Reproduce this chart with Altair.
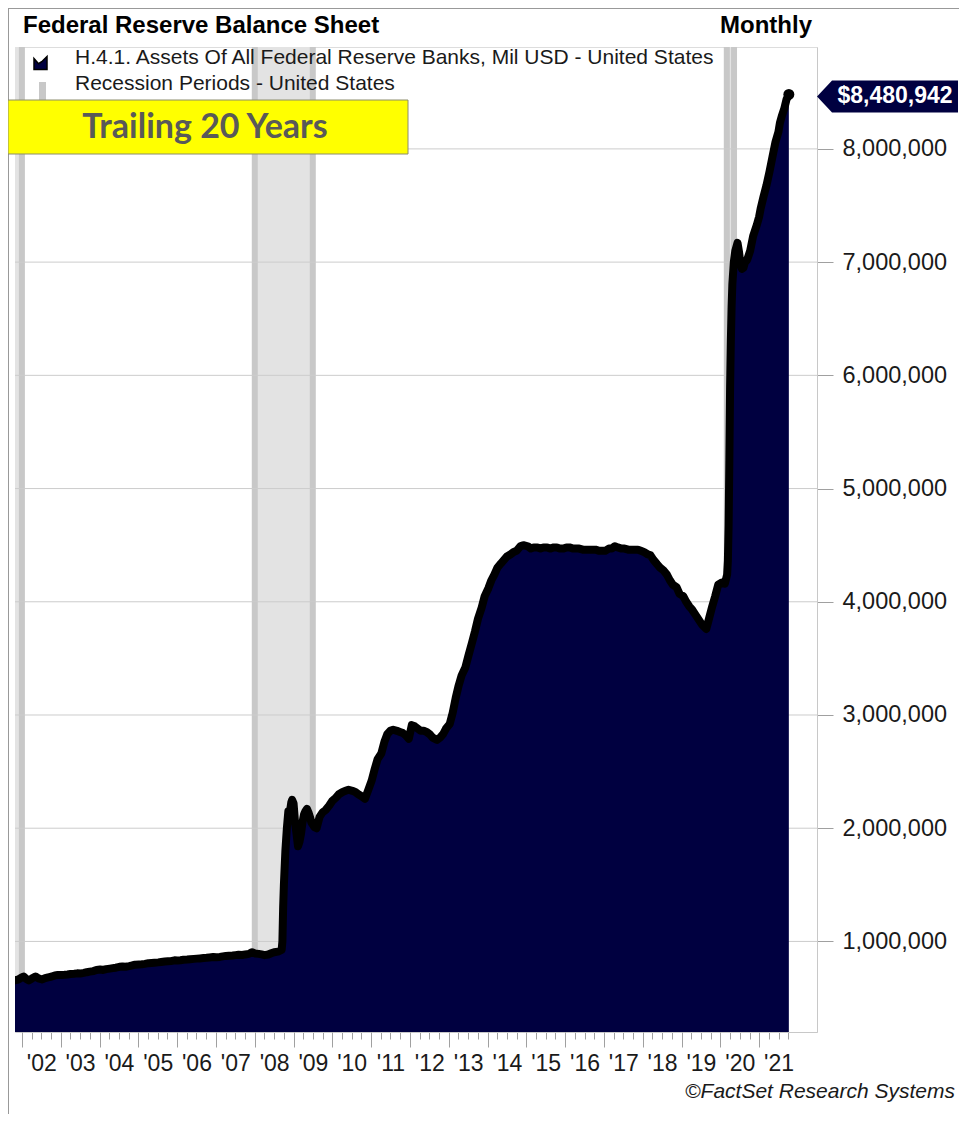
import altair as alt
import pandas as pd

# ---------------- data ----------------
dates = [
    "2001-10-24", "2001-11-14", "2001-12-05", "2001-12-26",
    "2002-01-16", "2002-02-06", "2002-03-06", "2002-04-03", "2002-05-08", "2002-06-05",
    "2002-07-10", "2002-08-07", "2002-09-04", "2002-10-02", "2002-11-06", "2002-12-04",
    "2003-01-08", "2003-02-05", "2003-03-05", "2003-04-02", "2003-05-07", "2003-06-04",
    "2003-07-02", "2003-08-06", "2003-09-03", "2003-10-01", "2003-11-05", "2003-12-03",
    "2004-01-07", "2004-02-04", "2004-03-03", "2004-04-07", "2004-05-05", "2004-06-02",
    "2004-07-07", "2004-08-04", "2004-09-01", "2004-10-06", "2004-11-03", "2004-12-01",
    "2005-01-05", "2005-02-02", "2005-03-02", "2005-04-06", "2005-05-04", "2005-06-01",
    "2005-07-06", "2005-08-03", "2005-09-07", "2005-10-05", "2005-11-02", "2005-12-07",
    "2006-01-04", "2006-02-01", "2006-03-01", "2006-04-05", "2006-05-03", "2006-06-07",
    "2006-07-05", "2006-08-02", "2006-09-06", "2006-10-04", "2006-11-01", "2006-12-06",
    "2007-01-03", "2007-02-07", "2007-03-07", "2007-04-04", "2007-05-02", "2007-06-06",
    "2007-07-04", "2007-08-01", "2007-09-05", "2007-10-03", "2007-11-07", "2007-12-05",
    "2008-01-02", "2008-02-06", "2008-03-05", "2008-04-02", "2008-05-07", "2008-06-04",
    "2008-07-02", "2008-08-06", "2008-09-10", "2008-09-17", "2008-09-24", "2008-10-01",
    "2008-10-15", "2008-10-29", "2008-11-12", "2008-11-26", "2008-12-10", "2008-12-17",
    "2008-12-31",
    "2009-01-14", "2009-01-28", "2009-02-11", "2009-02-25", "2009-03-11", "2009-03-25",
    "2009-04-08", "2009-04-22", "2009-05-06", "2009-05-20", "2009-06-03", "2009-06-17",
    "2009-07-01", "2009-07-15", "2009-08-05", "2009-08-19", "2009-09-02", "2009-09-30",
    "2009-10-28", "2009-12-02", "2009-12-30",
    "2010-02-03", "2010-03-03", "2010-04-07", "2010-05-05", "2010-06-02", "2010-07-07",
    "2010-08-04", "2010-09-01", "2010-10-06", "2010-11-03", "2010-12-01",
    "2011-01-05", "2011-02-02", "2011-03-02", "2011-04-06", "2011-05-04", "2011-06-01",
    "2011-06-29", "2011-07-27", "2011-08-31", "2011-09-28", "2011-10-26", "2011-11-23",
    "2011-12-21",
    "2012-01-18", "2012-02-15", "2012-03-14", "2012-04-11", "2012-05-09", "2012-06-06",
    "2012-07-04", "2012-08-01", "2012-09-12", "2012-10-10", "2012-11-07", "2012-12-05",
    "2013-01-09", "2013-02-06", "2013-03-06", "2013-04-03", "2013-05-01", "2013-06-05",
    "2013-07-03", "2013-08-07", "2013-09-04", "2013-10-02", "2013-11-06", "2013-12-04",
    "2014-01-08", "2014-02-05", "2014-03-05", "2014-04-02", "2014-05-07", "2014-06-04",
    "2014-07-02", "2014-08-06", "2014-09-03", "2014-10-01", "2014-11-05", "2014-12-03",
    "2015-01-14", "2015-02-11", "2015-03-11", "2015-04-15", "2015-05-13", "2015-06-10",
    "2015-07-15", "2015-08-12", "2015-09-16", "2015-10-14", "2015-11-11", "2015-12-16",
    "2016-01-13", "2016-02-10", "2016-03-16", "2016-04-13", "2016-05-11", "2016-06-15",
    "2016-07-13", "2016-08-10", "2016-09-14", "2016-10-12", "2016-11-16", "2016-12-14",
    "2017-01-11", "2017-02-15", "2017-03-15", "2017-04-12", "2017-05-10", "2017-06-14",
    "2017-07-12", "2017-08-16", "2017-09-13", "2017-10-11", "2017-11-15", "2017-12-13",
    "2018-01-10", "2018-02-14", "2018-03-14", "2018-04-11", "2018-05-16", "2018-06-13",
    "2018-07-11", "2018-08-15", "2018-09-12", "2018-10-10", "2018-11-14", "2018-12-12",
    "2019-01-16", "2019-02-13", "2019-03-13", "2019-04-10", "2019-05-15", "2019-06-12",
    "2019-07-10", "2019-08-21", "2019-09-18", "2019-10-16", "2019-11-13", "2019-12-11",
    "2020-01-15", "2020-02-12", "2020-03-04", "2020-03-11", "2020-03-18", "2020-03-25",
    "2020-04-01", "2020-04-08", "2020-04-15", "2020-04-22", "2020-05-06", "2020-05-20",
    "2020-06-10", "2020-06-24", "2020-07-08", "2020-07-22", "2020-08-05", "2020-08-19",
    "2020-09-09", "2020-10-07", "2020-11-04", "2020-12-09", "2020-12-30",
    "2021-01-13", "2021-02-10", "2021-03-10", "2021-04-07", "2021-05-05", "2021-06-02",
    "2021-06-30", "2021-07-14", "2021-08-04", "2021-08-25", "2021-09-15", "2021-09-29",
    "2021-10-06",
]

values = [
    655000, 660000, 668000, 680000,
    690000, 672000, 655000, 672000, 690000, 674000,
    664000, 676000, 683000, 688000, 700000, 704000,
    703000, 705000, 708000, 712000, 715000, 718000,
    716000, 722000, 728000, 733000, 738000, 748000,
    752000, 748000, 755000, 760000, 764000, 768000,
    776000, 779000, 776000, 782000, 788000, 795000,
    797000, 798000, 802000, 808000, 810000, 812000,
    815000, 818000, 822000, 824000, 826000, 833000,
    832000, 834000, 838000, 840000, 843000, 846000,
    848000, 850000, 853000, 855000, 858000, 862000,
    860000, 863000, 868000, 872000, 874000, 876000,
    879000, 882000, 880000, 885000, 890000, 905000,
    894000, 890000, 885000, 879000, 884000, 895000,
    905000, 910000, 925000, 1000000, 1300000, 1500000,
    1800000, 2000000, 2150000, 2140000, 2230000, 2250000,
    2220000,
    2050000, 1950000, 1840000, 1880000, 1950000, 2050000,
    2120000, 2150000, 2170000, 2140000, 2100000, 2050000,
    2030000, 2010000, 2000000, 2050000, 2100000, 2140000,
    2160000, 2200000, 2240000,
    2270000, 2300000, 2320000, 2330000, 2340000, 2330000,
    2320000, 2300000, 2280000, 2260000, 2330000,
    2420000, 2520000, 2610000, 2660000, 2760000, 2830000,
    2860000, 2870000, 2860000, 2850000, 2840000, 2820000,
    2790000,
    2910000, 2900000, 2880000, 2860000, 2860000, 2850000,
    2830000, 2800000, 2780000, 2800000, 2830000, 2880000,
    2920000, 3020000, 3150000, 3260000, 3350000, 3420000,
    3520000, 3640000, 3740000, 3850000, 3950000, 4050000,
    4120000, 4190000, 4240000, 4300000, 4340000, 4370000,
    4400000, 4420000, 4440000, 4450000, 4490000, 4500000,
    4490000, 4470000, 4480000, 4480000, 4470000, 4480000,
    4480000, 4470000, 4480000, 4480000, 4470000, 4470000,
    4480000, 4480000, 4470000, 4470000, 4470000, 4460000,
    4460000, 4460000, 4460000, 4460000, 4450000, 4450000,
    4450000, 4470000, 4470000, 4490000, 4480000, 4470000,
    4470000, 4460000, 4460000, 4460000, 4460000, 4450000,
    4440000, 4420000, 4410000, 4370000, 4330000, 4300000,
    4280000, 4240000, 4190000, 4150000, 4130000, 4070000,
    4050000, 4000000, 3960000, 3930000, 3880000, 3840000,
    3800000, 3760000, 3860000, 3960000, 4050000, 4150000,
    4170000, 4160000, 4240000, 4360000, 4670000, 5250000,
    5900000, 6300000, 6600000, 6800000, 7000000, 7100000,
    7170000, 7090000, 6980000, 6940000, 6950000, 7000000,
    7020000, 7100000, 7230000, 7330000, 7400000,
    7470000, 7580000, 7680000, 7800000, 7930000, 8060000,
    8150000, 8230000, 8300000, 8360000, 8440000, 8460000,
    8480942,
]

recession_start = ["2001-04-01", "2008-01-01", "2020-03-01"]
recession_end = ["2001-12-31", "2009-06-30", "2020-05-08"]

y_tick_values = [1000000, 2000000, 3000000, 4000000, 5000000, 6000000, 7000000, 8000000]
tick_years = list(range(2002, 2022))

title_text = "Federal Reserve Balance Sheet"
freq_text = "Monthly"
legend_labels = [
    "H.4.1. Assets Of All Federal Reserve Banks, Mil USD - United States",
    "Recession Periods - United States",
]
badge_text = "Trailing 20 Years"
source_text = "\u00a9FactSet Research Systems"

# ---------------- styling ----------------
W, H = 802, 985
NAVY = "#000040"
SANS = "Liberation Sans, Arial, sans-serif"
TXT = "#1a1a1a"

df = pd.DataFrame({"date": dates, "value": values})
last = df.tail(1)
bands = pd.DataFrame({"start": recession_start, "end": recession_end})
grid = pd.DataFrame({"value": y_tick_values})
one = pd.DataFrame({"k": [0]})

xscale = alt.Scale(domain=[alt.DateTime(year=2001, month=10, date=27),
                           alt.DateTime(year=2022, month=6, date=28)])
yscale = alt.Scale(domain=[200000, 8900000], nice=False, zero=False)

minor_ticks = [alt.DateTime(year=y, month=m, date=1) for y in tick_years for m in (1, 4, 7, 10)]
major_ticks = [alt.DateTime(year=y, month=1, date=1) for y in tick_years]
label_ticks = [alt.DateTime(year=y, month=7, date=1) for y in tick_years]

ax_minor = alt.Axis(orient="bottom", values=minor_ticks, tickSize=7, labels=False,
                    domain=True, domainColor="#c8c8c8", tickColor="#a0a0a0",
                    grid=False, title=None)
ax_major = alt.Axis(orient="bottom", values=major_ticks, tickSize=15, labels=False,
                    domain=False, tickColor="#a0a0a0", grid=False, title=None)
ax_labels = alt.Axis(orient="bottom", values=label_ticks, ticks=False, domain=False,
                     format="'%y", labelFont=SANS, labelFontSize=23, labelColor=TXT,
                     labelPadding=20, grid=False, title=None, labelOverlap=False)
y_axis = alt.Axis(orient="right", values=y_tick_values, format=",.0f", tickSize=16,
                  tickColor="#a0a0a0", domainColor="#c8c8c8", labelFont=SANS,
                  labelFontSize=23.5, labelColor=TXT, labelPadding=9, grid=False,
                  title=None)

Y = alt.Y("value:Q", scale=yscale, axis=y_axis)

bands_layer = alt.Chart(bands).mark_rect(
    fill="#e3e3e3", stroke="#c8c8c8", strokeWidth=6, clip=True
).encode(
    x=alt.X("start:T", scale=xscale, axis=ax_minor),
    x2="end:T",
    y=alt.value(-10), y2=alt.value(H + 10),
)

grid_layer = alt.Chart(grid).mark_rule(color="#cccccc", strokeWidth=1).encode(y=Y)

area_layer = alt.Chart(df).mark_area(color=NAVY, clip=True).encode(
    x=alt.X("date:T", scale=xscale, axis=ax_labels), y=Y,
)

line_layer = alt.Chart(df).mark_line(
    color="black", strokeWidth=8, strokeJoin="round", strokeCap="round", clip=True
).encode(
    x=alt.X("date:T", scale=xscale, axis=ax_major), y=Y,
)

dot_layer = alt.Chart(last).mark_circle(size=120, color="black", opacity=1).encode(
    x=alt.X("date:T", scale=xscale, axis=None), y=Y,
)

callout_path = "M -4.375 0 L -3.4375 -1 L 4.4375 -1 L 4.4375 1 L -3.4375 1 Z"
callout_shape = alt.Chart(last).mark_point(
    shape=callout_path, size=1024, filled=True, color=NAVY, opacity=1, yOffset=2
).encode(x=alt.value(872), y=Y)

callout_text = alt.Chart(last).mark_text(
    color="white", font=SANS, fontSize=23, fontWeight="bold", align="center",
    baseline="middle", yOffset=2
).encode(
    x=alt.value(880), y=Y,
    text=alt.Text("value:Q", format="$,.0f"),
)

frame_left = alt.Chart(one).mark_rule(color="#999999", strokeWidth=1).encode(
    x=alt.value(-6.5), y=alt.value(-39), y2=alt.value(H + 82))
frame_top = alt.Chart(one).mark_rule(color="#999999", strokeWidth=1).encode(
    x=alt.value(-7), x2=alt.value(W + 142), y=alt.value(-38.5))

icon_series = alt.Chart(one).mark_point(
    shape="M -1 -0.7 L -0.3 0.1 L 0.3 -0.3 L 1 -1 L 1 1 L -1 1 Z", size=169,
    filled=True, color=NAVY, stroke="black", strokeWidth=1.5, opacity=1
).encode(x=alt.value(25.5), y=alt.value(16))

icon_recession = alt.Chart(one).mark_rect(color="#c8c8c8").encode(
    x=alt.value(24), x2=alt.value(31), y=alt.value(35), y2=alt.value(56))


def label(text, x, y, size, weight="normal", align="left", font=SANS, style="normal",
          color=TXT, baseline="alphabetic"):
    return alt.Chart(pd.DataFrame({"t": [text]})).mark_text(
        font=font, fontSize=size, fontWeight=weight, align=align, fontStyle=style,
        color=color, baseline=baseline
    ).encode(x=alt.value(x), y=alt.value(y), text="t:N")


legend1 = label(legend_labels[0], 60, 17, 21)
legend2 = label(legend_labels[1], 60, 43, 21)

badge_box = alt.Chart(one).mark_rect(fill="#ffff00", stroke="#8c8c6c", strokeWidth=1).encode(
    x=alt.value(-7), x2=alt.value(393), y=alt.value(53), y2=alt.value(107))
badge = label(badge_text, 190, 91, 34, weight="bold", align="center", font="Lato",
              color="#595959")

title = label(title_text, 8, -14, 24, weight="bold", color="black")
freq = label(freq_text, 705, -14, 24, weight="bold", color="black")
source = label(source_text, 940, 1051, 21, align="right", style="italic")

chart = alt.layer(
    bands_layer, grid_layer, area_layer, line_layer, dot_layer,
    frame_left, frame_top, icon_series, icon_recession, legend1, legend2,
    badge_box, badge, title, freq, source, callout_shape, callout_text,
).resolve_axis(x="independent").properties(
    width=W, height=H,
    padding={"left": 7, "top": 39, "right": 142, "bottom": 82},
    autosize=alt.AutoSizeParams(type="none"),
).configure_view(stroke=None).configure(background="white")

chart.save("out.html", embed_options={"renderer": "svg", "actions": False})
